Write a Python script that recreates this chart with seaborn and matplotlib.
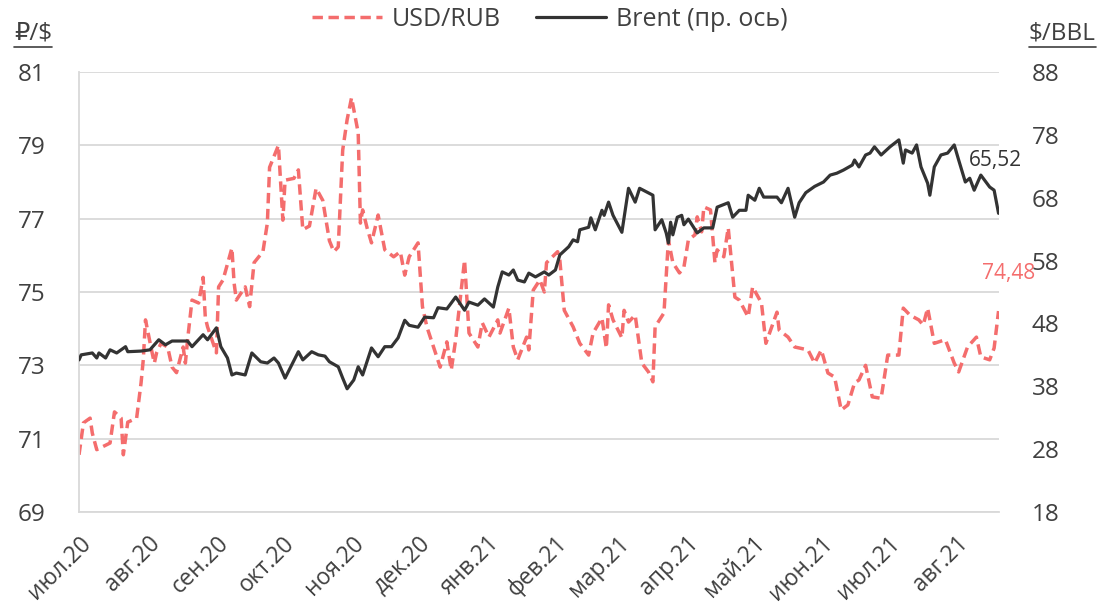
import pandas as pd
import matplotlib.pyplot as plt
import seaborn as sns
from matplotlib.lines import Line2D

# Style
sns.set_style("white")
plt.rcParams['font.family'] = ['Open Sans', 'DejaVu Sans']

TEXT = '#404040'
RED = '#F46D6D'
DARK = '#333333'
GRID = '#D9D9D9'

# USD/RUB (left axis)
rub_dates = [
    '2020-07-01', '2020-07-03', '2020-07-06', '2020-07-07', '2020-07-09', '2020-07-15', '2020-07-17',
    '2020-07-20', '2020-07-21', '2020-07-23', '2020-07-27', '2020-07-29', '2020-07-30', '2020-07-31',
    '2020-08-03', '2020-08-04', '2020-08-05', '2020-08-07', '2020-08-10', '2020-08-12', '2020-08-14',
    '2020-08-17', '2020-08-18', '2020-08-19', '2020-08-21', '2020-08-24', '2020-08-26', '2020-08-27',
    '2020-08-28', '2020-09-01', '2020-09-02', '2020-09-04', '2020-09-08', '2020-09-09', '2020-09-10',
    '2020-09-14', '2020-09-16', '2020-09-18', '2020-09-22', '2020-09-24', '2020-09-25', '2020-09-29',
    '2020-09-30', '2020-10-01', '2020-10-02', '2020-10-06', '2020-10-08', '2020-10-10', '2020-10-13',
    '2020-10-16', '2020-10-19', '2020-10-22', '2020-10-24', '2020-10-26', '2020-10-28', '2020-10-30',
    '2020-11-01', '2020-11-04', '2020-11-05', '2020-11-06', '2020-11-08', '2020-11-10', '2020-11-13',
    '2020-11-16', '2020-11-20', '2020-11-23', '2020-11-25', '2020-11-27', '2020-12-01', '2020-12-03',
    '2020-12-05', '2020-12-08', '2020-12-11', '2020-12-14', '2020-12-16', '2020-12-18', '2020-12-22',
    '2020-12-24', '2020-12-28', '2020-12-30', '2021-01-02', '2021-01-06', '2021-01-07', '2021-01-11',
    '2021-01-13', '2021-01-15', '2021-01-19', '2021-01-20', '2021-01-22', '2021-01-25', '2021-01-27',
    '2021-01-28', '2021-02-02', '2021-02-03', '2021-02-05', '2021-02-09', '2021-02-12', '2021-02-16',
    '2021-02-18', '2021-02-22', '2021-02-24', '2021-02-25', '2021-02-27', '2021-03-03', '2021-03-04',
    '2021-03-06', '2021-03-09', '2021-03-12', '2021-03-15', '2021-03-17', '2021-03-18', '2021-03-22',
    '2021-03-24', '2021-03-26', '2021-03-29', '2021-03-31', '2021-04-02', '2021-04-05', '2021-04-06',
    '2021-04-08', '2021-04-09', '2021-04-12', '2021-04-14', '2021-04-15', '2021-04-18', '2021-04-20',
    '2021-04-23', '2021-04-25', '2021-04-29', '2021-05-01', '2021-05-05', '2021-05-07', '2021-05-12',
    '2021-05-13', '2021-05-17', '2021-05-20', '2021-05-26', '2021-05-29', '2021-06-01', '2021-06-04',
    '2021-06-07', '2021-06-10', '2021-06-13', '2021-06-16', '2021-06-18', '2021-06-21', '2021-06-24',
    '2021-06-28', '2021-07-01', '2021-07-06', '2021-07-08', '2021-07-11', '2021-07-15', '2021-07-17',
    '2021-07-19', '2021-07-22', '2021-07-27', '2021-07-31', '2021-08-02', '2021-08-06', '2021-08-10',
    '2021-08-12', '2021-08-16', '2021-08-18', '2021-08-20',
]
rub_values = [
    70.56, 71.43, 71.56, 71.15, 70.70, 70.88, 71.73,
    71.56, 70.56, 71.45, 71.56, 72.52, 73.15, 74.24,
    73.34, 73.06, 73.34, 73.60, 73.50, 72.95, 72.80,
    73.50, 73.06, 73.70, 74.78, 74.70, 75.40, 74.30,
    74.05, 73.34, 75.14, 75.33, 76.20, 75.24, 74.78,
    75.14, 74.60, 75.80, 76.10, 76.88, 78.40, 79.00,
    77.97, 76.96, 78.05, 78.10, 78.33, 76.70, 76.80,
    77.83, 77.50, 76.40, 76.10, 76.23, 78.87, 79.70,
    80.30, 79.34, 76.88, 77.24, 76.75, 76.34, 77.10,
    76.15, 75.96, 76.10, 75.46, 75.96, 76.34, 74.60,
    74.05, 73.50, 72.95, 73.64, 72.87, 73.70, 75.87,
    73.88, 73.50, 74.16, 73.77, 74.24, 73.88, 74.56,
    73.50, 73.15, 73.77, 73.42, 75.05, 75.33, 75.00,
    75.80, 76.10, 75.87, 74.50, 74.05, 73.60, 73.28,
    73.88, 74.29, 73.47, 74.65, 74.24, 73.75, 74.50,
    74.18, 74.37, 73.06, 72.82, 72.55, 74.05, 74.43,
    76.42, 75.80, 75.52, 75.68, 76.42, 76.56, 77.05,
    76.64, 77.32, 77.24, 75.80, 76.15, 75.96, 76.75,
    74.86, 74.78, 74.32, 75.14, 74.70, 73.60, 74.45,
    73.96, 73.77, 73.50, 73.42, 73.06, 73.42, 72.79,
    72.68, 71.78, 71.92, 72.52, 72.60, 73.00, 72.14,
    72.10, 73.28, 73.28, 74.56, 74.37, 74.24, 74.10,
    74.56, 73.60, 73.70, 73.06, 72.82, 73.50, 73.77,
    73.23, 73.15, 73.47, 74.48,
]

# Brent (right axis)
brent_dates = [
    '2020-07-01', '2020-07-02', '2020-07-07', '2020-07-09', '2020-07-10', '2020-07-13', '2020-07-15',
    '2020-07-18', '2020-07-22', '2020-07-23', '2020-07-29', '2020-08-02', '2020-08-06', '2020-08-09',
    '2020-08-12', '2020-08-16', '2020-08-19', '2020-08-21', '2020-08-26', '2020-08-28', '2020-09-01',
    '2020-09-03', '2020-09-06', '2020-09-08', '2020-09-10', '2020-09-14', '2020-09-17', '2020-09-21',
    '2020-09-24', '2020-09-27', '2020-09-29', '2020-10-02', '2020-10-05', '2020-10-08', '2020-10-10',
    '2020-10-14', '2020-10-17', '2020-10-20', '2020-10-22', '2020-10-26', '2020-10-28', '2020-10-30',
    '2020-11-02', '2020-11-04', '2020-11-06', '2020-11-10', '2020-11-13', '2020-11-16', '2020-11-19',
    '2020-11-22', '2020-11-25', '2020-11-27', '2020-12-01', '2020-12-04', '2020-12-08', '2020-12-10',
    '2020-12-14', '2020-12-18', '2020-12-22', '2020-12-24', '2020-12-28', '2020-12-31', '2021-01-04',
    '2021-01-06', '2021-01-08', '2021-01-11', '2021-01-13', '2021-01-15', '2021-01-18', '2021-01-20',
    '2021-01-23', '2021-01-27', '2021-01-29', '2021-02-01', '2021-02-03', '2021-02-07', '2021-02-09',
    '2021-02-11', '2021-02-12', '2021-02-16', '2021-02-17', '2021-02-19', '2021-02-22', '2021-02-23',
    '2021-02-25', '2021-02-27', '2021-03-03', '2021-03-06', '2021-03-09', '2021-03-11', '2021-03-17',
    '2021-03-18', '2021-03-21', '2021-03-23', '2021-03-24', '2021-03-25', '2021-03-26', '2021-03-28',
    '2021-03-30', '2021-03-31', '2021-04-02', '2021-04-06', '2021-04-09', '2021-04-13', '2021-04-15',
    '2021-04-20', '2021-04-22', '2021-04-25', '2021-04-28', '2021-04-29', '2021-05-02', '2021-05-04',
    '2021-05-06', '2021-05-12', '2021-05-14', '2021-05-17', '2021-05-20', '2021-05-22', '2021-05-25',
    '2021-05-29', '2021-06-02', '2021-06-05', '2021-06-08', '2021-06-11', '2021-06-15', '2021-06-16',
    '2021-06-18', '2021-06-21', '2021-06-23', '2021-06-25', '2021-06-28', '2021-07-02', '2021-07-06',
    '2021-07-08', '2021-07-09', '2021-07-12', '2021-07-14', '2021-07-16', '2021-07-19', '2021-07-20',
    '2021-07-22', '2021-07-25', '2021-07-28', '2021-07-31', '2021-08-02', '2021-08-05', '2021-08-07',
    '2021-08-09', '2021-08-12', '2021-08-16', '2021-08-18', '2021-08-20',
]
brent_values = [
    42.2, 43.0, 43.3, 42.5, 43.3, 42.5, 43.8,
    43.3, 44.3, 43.5, 43.6, 43.8, 45.4, 44.6,
    45.2, 45.2, 45.2, 44.3, 46.2, 45.4, 47.3,
    44.3, 42.5, 39.8, 40.1, 39.8, 43.3, 41.9,
    41.7, 42.5, 41.7, 39.3, 41.4, 43.5, 42.2,
    43.5, 43.0, 42.8, 41.9, 41.1, 39.3, 37.6,
    39.0, 41.1, 39.8, 44.1, 42.7, 44.3, 44.3,
    45.7, 48.5, 47.7, 47.4, 49.0, 48.9, 50.5,
    50.3, 52.2, 50.1, 51.4, 50.9, 51.9, 50.6,
    53.8, 56.2, 55.7, 56.5, 54.9, 54.6, 56.0,
    55.4, 56.2, 55.7, 56.5, 58.9, 60.2, 61.3,
    61.0, 62.9, 63.3, 64.8, 62.9, 66.0, 65.2,
    67.3, 65.2, 62.5, 69.5, 67.3, 69.5, 68.4,
    62.9, 64.5, 62.4, 60.8, 64.1, 62.1, 64.9,
    65.2, 63.7, 64.6, 62.4, 63.2, 63.2, 66.5,
    67.2, 64.9, 66.0, 66.0, 68.4, 67.6, 69.5,
    68.1, 68.1, 67.2, 69.5, 64.9, 67.2, 68.8,
    69.8, 70.5, 71.6, 71.9, 72.4, 73.2, 74.0,
    72.9, 74.8, 75.1, 76.1, 74.8, 76.1, 77.2,
    73.5, 75.6, 75.1, 76.4, 72.9, 70.3, 68.4,
    72.9, 74.8, 75.1, 76.4, 74.0, 70.5, 71.1,
    69.2, 71.6, 69.7, 69.2, 65.52,
]

month_labels = ['июл.20', 'авг.20', 'сен.20', 'окт.20', 'ноя.20', 'дек.20', 'янв.21',
                'фев.21', 'мар.21', 'апр.21', 'май.21', 'июн.21', 'июл.21', 'авг.21']
rub_ticks = [69, 71, 73, 75, 77, 79, 81]
brent_ticks = [18, 28, 38, 48, 58, 68, 78, 88]

rub = pd.DataFrame({'date': pd.to_datetime(rub_dates), 'value': rub_values})
brent = pd.DataFrame({'date': pd.to_datetime(brent_dates), 'value': brent_values})
month_starts = pd.date_range('2020-07-01', periods=len(month_labels), freq='MS')

fig = plt.figure(figsize=(10.99, 6.13), dpi=100)
ax = fig.add_axes([0.0719, 0.1648, 0.8367, 0.7177])
ax2 = ax.twinx()

sns.lineplot(data=rub, x='date', y='value', ax=ax, color=RED, linewidth=2.5,
             linestyle=(0, (3, 1.6)), legend=False)
sns.lineplot(data=brent, x='date', y='value', ax=ax2, color=DARK, linewidth=2.3, legend=False)

ax.set_xlim(rub['date'].iloc[0], rub['date'].iloc[-1])
ax.set_ylim(rub_ticks[0], rub_ticks[-1])
ax2.set_ylim(brent_ticks[0], brent_ticks[-1])

ax.set_yticks(rub_ticks)
ax2.set_yticks(brent_ticks)
ax.set_xticks(month_starts)
ax.set_xticklabels(month_labels, rotation=45, ha='right', rotation_mode='anchor')

for a in (ax, ax2):
    a.set_xlabel('')
    a.set_ylabel('')

ax.yaxis.grid(True, color=GRID, linewidth=1.3)
ax.set_axisbelow(True)
ax.tick_params(axis='y', length=0, pad=24, labelsize=17.5, labelcolor=TEXT)
ax2.tick_params(axis='y', length=0, pad=24, labelsize=17.5, labelcolor=TEXT)
ax.tick_params(axis='x', length=8, width=1.3, color=GRID, pad=6, labelsize=16.5, labelcolor=TEXT)

for side in ['top', 'right']:
    ax.spines[side].set_visible(False)
for side in ['left', 'bottom']:
    ax.spines[side].set_color(GRID)
    ax.spines[side].set_linewidth(1.3)
for side in ['top', 'right', 'left', 'bottom']:
    ax2.spines[side].set_visible(False)

# Last value labels
ax2.annotate('65,52', xy=(brent['date'].iloc[-1], brent['value'].iloc[-1]), xytext=(-2, 38),
             textcoords='offset points', ha='center', va='center', fontsize=15, color=DARK)
ax.annotate('74,48', xy=(rub['date'].iloc[-1], rub['value'].iloc[-1]), xytext=(7, 27),
            textcoords='offset points', ha='center', va='center', fontsize=15, color=RED)

# Legend
fig.legend(handles=[ax.lines[0], ax2.lines[0]], labels=['USD/RUB', 'Brent (пр. ось)'],
           loc='center', bbox_to_anchor=(0.5, 0.968), ncol=2, frameon=False, fontsize=18,
           labelcolor=TEXT, handlelength=2.8, handletextpad=0.4, columnspacing=1.4)

# Axis unit titles, underlined
t1 = fig.text(0.0127, 0.945, '₽/$', fontsize=17.5, color=TEXT, ha='left', va='center')
t2 = fig.text(0.997, 0.945, '$/BBL', fontsize=17.5, color=TEXT, ha='right', va='center')
fig.canvas.draw()
inv = fig.transFigure.inverted()
for t in (t1, t2):
    bb = t.get_window_extent()
    (x0, y0), (x1, _) = inv.transform([(bb.x0, bb.y0), (bb.x1, bb.y1)])
    fig.add_artist(Line2D([x0, x1], [y0 - 0.002, y0 - 0.002], color=TEXT, linewidth=1.2))

plt.savefig('out.png', dpi=100)
plt.close()
